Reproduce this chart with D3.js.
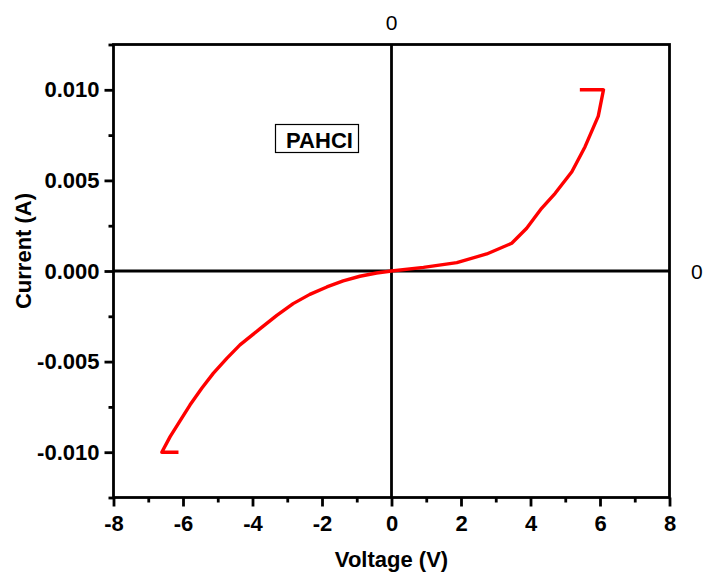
<!DOCTYPE html>
<html>
<head>
<meta charset="utf-8">
<script src="https://cdn.jsdelivr.net/npm/d3@7"></script>
<style>
  html, body { margin: 0; padding: 0; background: #fff; }
  svg { display: block; font-family: "Liberation Sans", Arial, sans-serif; }
</style>
</head>
<body>
<svg id="chart" width="703" height="573"></svg>
<script>
// I–V sweep of the PAHCI device (voltage in V, current in A)
const voltage = [-6.13, -6.61, -6.37, -6.09, -5.80, -5.46, -5.13, -4.74, -4.36, -3.78, -3.30, -2.83, -2.35, -1.86, -1.39, -0.91, -0.43, 0.00,
                 0.92, 1.88, 2.74, 3.46, 3.89, 4.32, 4.71, 5.19, 5.57, 5.95, 6.10, 5.42];
const current = [-0.0100, -0.0100, -0.00914, -0.00828, -0.00740, -0.00647, -0.00565, -0.00482, -0.00408, -0.00318, -0.00245, -0.00180, -0.00129, -0.00088, -0.00055, -0.00029, -0.00011, 0.0,
                 0.00020, 0.00046, 0.00094, 0.00153, 0.00236, 0.00346, 0.00429, 0.00548, 0.00686, 0.00855, 0.0100, 0.0100];

const xMajorTicks = [-8, -6, -4, -2, 0, 2, 4, 6, 8];
const xMinorTicks = [-7, -5, -3, -1, 1, 3, 5, 7];
const yMajorTicks = [-0.010, -0.005, 0.000, 0.005, 0.010];
const yMinorTicks = [-0.0125, -0.0075, -0.0025, 0.0025, 0.0075, 0.0125];

const sampleLabel = "PAHCI";
const xTitle = "Voltage (V)";
const yTitle = "Current (A)";

const svg = d3.select("#chart");
const plotL = 113.5, plotR = 669.5, plotT = 44.5, plotB = 497.5;

const x = d3.scaleLinear().domain([-8, 8]).range([plotL, plotR]);
const y = d3.scaleLinear().domain([-0.0125, 0.0125]).range([plotB, plotT]);

const axisColor = "#000";
const lineW = 2.8;
const fontStack = "'Liberation Sans', Arial, sans-serif";

// Bottom axis: major and minor outward ticks
const xAxis = svg.append("g").attr("transform", `translate(0,${plotB})`)
  .call(d3.axisBottom(x).tickValues(xMajorTicks).tickSize(9).tickPadding(9)
    .tickFormat(d => (d < 0 ? "-" : "") + Math.abs(d)));
xAxis.select(".domain").remove();
xAxis.selectAll(".tick line").attr("stroke", axisColor).attr("stroke-width", lineW);
xAxis.selectAll(".tick text").attr("font-size", 22).attr("font-weight", "bold").attr("fill", "#000")
  .attr("font-family", fontStack);

const xMinor = svg.append("g").attr("transform", `translate(0,${plotB})`)
  .call(d3.axisBottom(x).tickValues(xMinorTicks).tickSize(5).tickFormat(""));
xMinor.select(".domain").remove();
xMinor.selectAll(".tick line").attr("stroke", axisColor).attr("stroke-width", lineW);

// Left axis: major and minor outward ticks
const yAxis = svg.append("g").attr("transform", `translate(${plotL},0)`)
  .call(d3.axisLeft(y).tickValues(yMajorTicks).tickSize(9).tickPadding(5)
    .tickFormat(d => (d < 0 ? "-" : "") + d3.format(".3f")(Math.abs(d))));
yAxis.select(".domain").remove();
yAxis.selectAll(".tick line").attr("stroke", axisColor).attr("stroke-width", lineW);
yAxis.selectAll(".tick text").attr("font-size", 22).attr("font-weight", "bold").attr("fill", "#000")
  .attr("font-family", fontStack);

const yMinor = svg.append("g").attr("transform", `translate(${plotL},0)`)
  .call(d3.axisLeft(y).tickValues(yMinorTicks).tickSize(5).tickFormat(""));
yMinor.select(".domain").remove();
yMinor.selectAll(".tick line").attr("stroke", axisColor).attr("stroke-width", lineW);

// Frame
svg.append("rect")
  .attr("x", plotL).attr("y", plotT)
  .attr("width", plotR - plotL).attr("height", plotB - plotT)
  .attr("fill", "none").attr("stroke", axisColor).attr("stroke-width", lineW);

// Zero crosshair lines
svg.append("line")
  .attr("x1", x(0)).attr("x2", x(0)).attr("y1", plotT).attr("y2", plotB)
  .attr("stroke", axisColor).attr("stroke-width", lineW);
svg.append("line")
  .attr("x1", plotL).attr("x2", plotR).attr("y1", y(0)).attr("y2", y(0))
  .attr("stroke", axisColor).attr("stroke-width", lineW);

// Zero labels for the crosshair axes
svg.append("text").attr("x", x(0)).attr("y", 30).attr("text-anchor", "middle")
  .attr("font-size", 21).attr("fill", "#000").text("0");
svg.append("text").attr("x", 691).attr("y", y(0) + 8).attr("text-anchor", "start")
  .attr("font-size", 21).attr("fill", "#000").text("0");

// I–V curve
const pts = voltage.map((v, i) => [v, current[i]]);
svg.append("path")
  .datum(pts)
  .attr("fill", "none")
  .attr("stroke", "#ff0000")
  .attr("stroke-width", 3.4)
  .attr("stroke-linejoin", "round")
  .attr("d", d3.line().x(d => x(d[0])).y(d => y(d[1])));

// Sample label in a box
const lbl = svg.append("g");
lbl.append("rect").attr("x", 275.5).attr("y", 124.5).attr("width", 83).attr("height", 28)
  .attr("fill", "#fff").attr("stroke", "#000").attr("stroke-width", 1.2);
lbl.append("text").attr("x", 319.5).attr("y", 148).attr("text-anchor", "middle")
  .attr("font-size", 22).attr("font-weight", "bold").attr("fill", "#000").text(sampleLabel);

// Axis titles
svg.append("text").attr("x", x(0)).attr("y", 567).attr("text-anchor", "middle")
  .attr("font-size", 22).attr("font-weight", "bold").attr("fill", "#000").text(xTitle);
svg.append("text").attr("transform", "translate(31,251) rotate(-90)")
  .attr("text-anchor", "middle")
  .attr("font-size", 22).attr("font-weight", "bold").attr("fill", "#000").text(yTitle);
</script>
</body>
</html>
